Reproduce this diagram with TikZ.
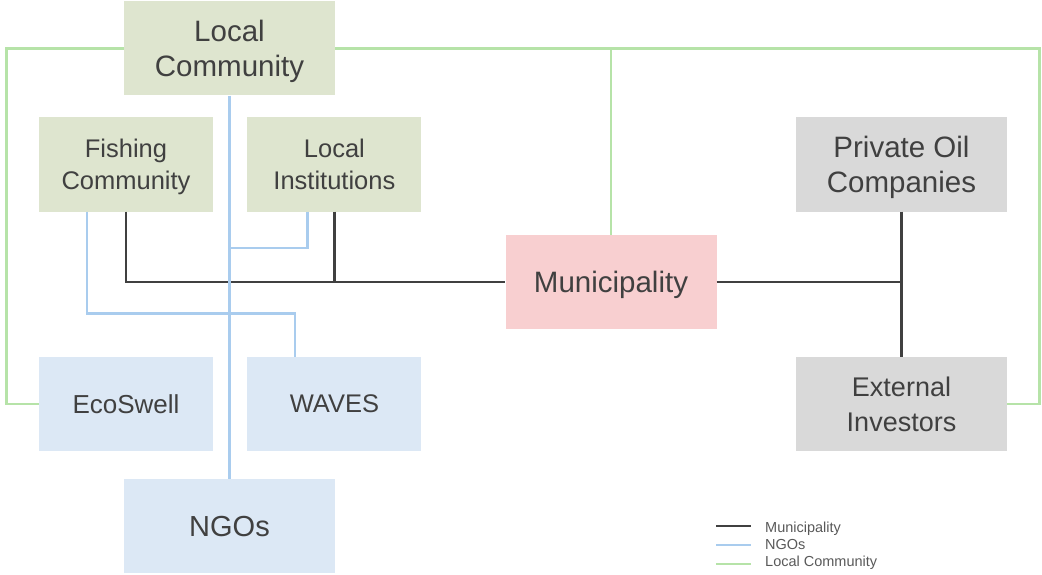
\documentclass[tikz,border=0pt]{standalone}
\usepackage{fontspec}
\setmainfont{Liberation Sans}
\usepackage{tikz}
\usetikzlibrary{positioning}

\definecolor{ink}{HTML}{404040}
\definecolor{keyink}{HTML}{595959}
\definecolor{commfill}{HTML}{DEE5CF}
\definecolor{ngofill}{HTML}{DCE8F5}
\definecolor{privfill}{HTML}{D9D9D9}
\definecolor{munifill}{HTML}{F8CFD0}
\definecolor{muniink}{HTML}{404040}
\definecolor{ngoink}{HTML}{A9CCEE}
\definecolor{commink}{HTML}{B6E3A8}

\newcommand{\boxfont}[2]{\fontsize{#1}{#2}\selectfont}

\begin{document}
\begin{tikzpicture}
		[x=1pt, y=-1pt,
		 box/.style      = {shape=rectangle, inner sep=0pt, align=center, text=ink, text depth=0pt},
		 wide/.style     = {box, minimum width=211pt, minimum height=94pt},
		 narrow/.style   = {box, minimum width=174pt, minimum height=94pt},
		 muniline/.style = {draw=muniink, line width=2.6pt},
		 ngoline/.style  = {draw=ngoink,  line width=2.6pt},
		 commline/.style = {draw=commink, line width=2.6pt},
		 legend/.style   = {anchor=west, inner sep=0pt, text=keyink, text depth=0pt, font=\boxfont{14.5}{16}},
		]

		\useasboundingbox (0,0) rectangle (1042,575);

		\node [wide, fill=commfill, font=\boxfont{29.5}{35}]  (local)     at (229.5,48.5)  {Local\\ Community};
		\node [narrow, fill=commfill, font=\boxfont{25.5}{32}] (fishing)   at (126,164.5)   {Fishing\\ Community};
		\node [narrow, fill=commfill, font=\boxfont{25.5}{32}, right=34pt of fishing] (instit) {Local\\ Institutions};
		\node [wide, fill=munifill, font=\boxfont{29.5}{35}]  (muni)      at (611,282)     {Municipality};
		\node [wide, fill=privfill, font=\boxfont{29.5}{35}]  (oil)       at (901.5,164.5) {Private Oil\\ Companies};
		\node [wide, fill=privfill, font=\boxfont{27}{35}]    (investors) at (901.5,404)   {External\\ Investors};
		\node [narrow, fill=ngofill, font=\boxfont{26}{32}]   (ecoswell)  at (126,404)     {EcoSwell};
		\node [narrow, fill=ngofill, font=\boxfont{25.5}{32}, right=34pt of ecoswell] (waves) {WAVES};
		\node [wide, fill=ngofill, font=\boxfont{29}{35}]     (ngos)      at (229.5,526)   {NGOs};

		\coordinate (ngojoin) at (229.5,248);
		\coordinate (leftrail) at (6.5,0);
		\coordinate (rightrail) at (1039.5,0);

		% municipality links
		\draw[muniline] (fishing.south) |- (muni.west);
		\draw[muniline] (instit.south) -- (instit.south |- muni.west);
		\draw[muniline] (muni.east) -- (oil.south |- muni.east);
		\draw[muniline] (oil.south) -- (investors.north);

		% NGO links
		\draw[ngoline] (local.south) -- (ngos.north);
		\draw[ngoline] ([xshift=-27pt]instit.south) |- (ngojoin);
		\draw[ngoline] ([xshift=-39pt]fishing.south) -- ++(0,101.5) -| ([xshift=-39.5pt]waves.north);

		% local community links
		\draw[commline] (local.west) -- (leftrail |- local.west) |- (ecoswell.west);
		\draw[commline] (local.east) -- (rightrail |- local.east) |- (investors.east);
		\draw[commline] (muni.north) -- (muni.north |- local.east);

		% key
		\foreach \kind/\name/\ypos/\lpos [count=\i] in {muniline/Municipality/527.7/526, ngoline/NGOs/544.5/545, commline/Local Community/561/564} {
			\node [legend] (key\i) at (765,\ypos) {\name};
			\coordinate (swatch\i) at (716,\lpos);
			\draw[\kind] (swatch\i) -- ++(35,0);
		}

\end{tikzpicture}
\end{document}
